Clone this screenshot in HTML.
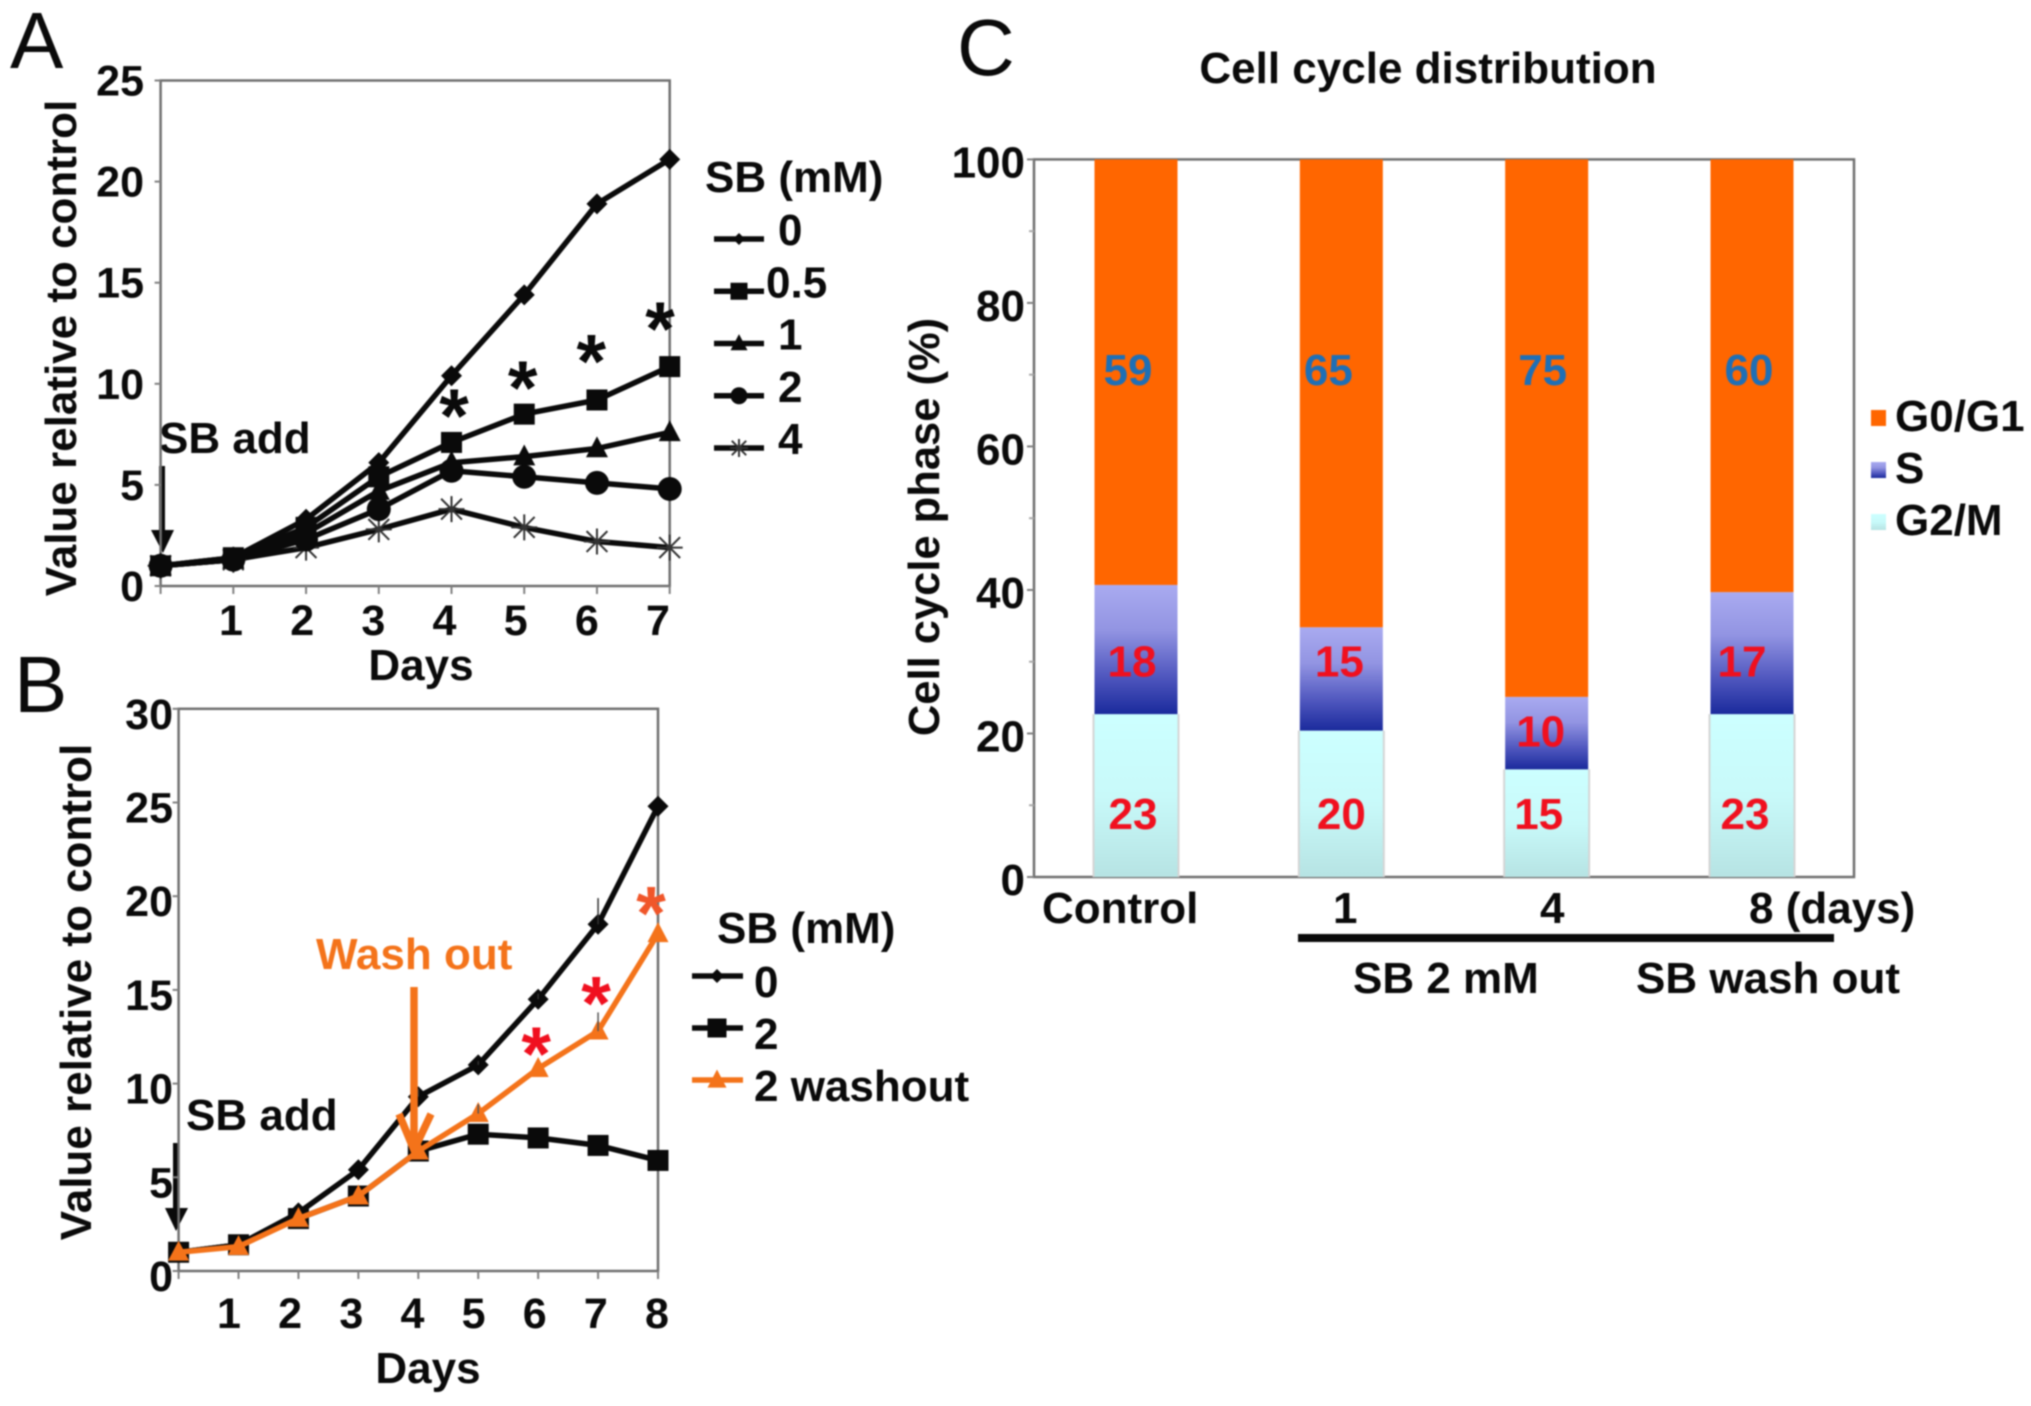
<!DOCTYPE html>
<html lang="en">
<head>
<meta charset="utf-8">
<title>Cell growth and cell cycle distribution</title>
<style>
  html, body { margin: 0; padding: 0; background: #fff; }
  #figure { display: block; width: 2031px; height: 1406px; filter: blur(0.9px); }
  text { font-family: "Liberation Sans", Arial, sans-serif; font-weight: bold; font-size: 44px; fill: #0a0a0a; }
  .panel-letter { font-weight: normal; font-size: 80px; fill: #0a0a0a; }
</style>
</head>
<body>
<svg id="figure" xmlns="http://www.w3.org/2000/svg" width="2031" height="1406" viewBox="0 0 2031 1406">
  <defs>
    <linearGradient id="grad-s" x1="0" y1="0" x2="0" y2="1">
      <stop offset="0" stop-color="#a9aaf0"/>
      <stop offset="0.35" stop-color="#9294e2"/>
      <stop offset="0.7" stop-color="#5158bf"/>
      <stop offset="1" stop-color="#1a2a9c"/>
    </linearGradient>
    <linearGradient id="grad-g2" x1="0" y1="0" x2="0" y2="1">
      <stop offset="0" stop-color="#ccffff"/>
      <stop offset="0.5" stop-color="#c8f9f9"/>
      <stop offset="1" stop-color="#b6e3e3"/>
    </linearGradient>
  </defs>

  <rect x="0" y="0" width="2031" height="1406" fill="#fff"/>

  <text class="panel-letter" x="10" y="68">A</text>
  <text class="panel-letter" x="14" y="712">B</text>
  <text class="panel-letter" x="957" y="75">C</text>

  <g id="panel-a">
    <text transform="translate(76 348) rotate(-90)" text-anchor="middle">Value relative to control</text>
    <text x="421" y="680" text-anchor="middle">Days</text>
    <text x="705" y="192">SB (mM)</text>
    <text x="159" y="453">SB add</text>
    <g>
      <line x1="162" y1="466" x2="162" y2="535" stroke="#0a0a0a" stroke-width="6"/>
      <polygon points="151,530 174,530 163,553" fill="#0a0a0a"/>
    </g>
  </g>

  <g id="panel-b">
    <text transform="translate(91 992) rotate(-90)" text-anchor="middle">Value relative to control</text>
    <text x="428" y="1383" text-anchor="middle">Days</text>
    <text x="717" y="943">SB (mM)</text>
    <text x="186" y="1130">SB add</text>
    <g>
      <line x1="176" y1="1143" x2="176" y2="1212" stroke="#0a0a0a" stroke-width="6"/>
      <polygon points="165,1208 188,1208 176,1231" fill="#0a0a0a"/>
    </g>
    <text x="316" y="969" style="fill:#f4731a">Wash out</text>
  </g>

  <g id="panel-c">
    <text x="1428" y="83" text-anchor="middle">Cell cycle distribution</text>
    <text transform="translate(939 527) rotate(-90)" text-anchor="middle" style="font-size:43.5px">Cell cycle phase (%)</text>
    <rect x="1298" y="934" width="536" height="8" fill="#0a0a0a"/>
    <text x="1353" y="993">SB 2 mM</text>
    <text x="1636" y="993">SB wash out</text>
  </g>
</svg>

<script>
// ---------- Panel A data ----------
const aDays = [0, 1, 2, 3, 4, 5, 6, 7];
const aDayLabels = [1, 2, 3, 4, 5, 6, 7];
const aYTicks = [0, 5, 10, 15, 20, 25];
const aNames = ['0', '0.5', '1', '2', '4'];
const aDose0 = [1, 1.4, 3.3, 6.1, 10.4, 14.4, 18.9, 21.1];
const aDose05 = [1, 1.4, 2.9, 5.4, 7.1, 8.5, 9.2, 10.85];
const aDose1 = [1, 1.3, 2.6, 4.7, 6.1, 6.4, 6.8, 7.6];
const aDose2 = [1, 1.3, 2.3, 3.8, 5.7, 5.4, 5.1, 4.8];
const aDose4 = [1, 1.3, 1.9, 2.8, 3.8, 2.9, 2.2, 1.9];

// ---------- Panel B data ----------
const bDays = [0, 1, 2, 3, 4, 5, 6, 7, 8];
const bDayLabels = [1, 2, 3, 4, 5, 6, 7, 8];
const bYTicks = [0, 5, 10, 15, 20, 25, 30];
const bNames = ['0', '2', '2 washout'];
const bDose0 = [1, 1.4, 3.1, 5.4, 9.3, 11, 14.5, 18.5, 24.8];
const bDose2 = [1, 1.4, 2.8, 4, 6.4, 7.3, 7.1, 6.7, 5.9];
const bWashout = [1, 1.3, 2.8, 4, 6.4, 8.4, 10.8, 12.8, 18];
const bDose0ErrorTop = [1, 1.4, 3.1, 5.4, 9.7, 11.2, 14.8, 19.9, 24.8];
const bWashoutErrorTop = [1, 1.3, 2.8, 4, 6.4, 8.9, 10.8, 13.8, 18];

// ---------- Panel C data ----------
const cCategories = ['Control', '1', '4', '8 (days)'];
const cG2M = [22.7, 20.4, 15, 22.7];
const cS = [18, 14.4, 10.1, 17];
const cG0G1 = [59.3, 65.2, 74.9, 60.3];
const cPrintedG2M = ['23', '20', '15', '23'];
const cPrintedS = ['18', '15', '10', '17'];
const cPrintedG0G1 = ['59', '65', '75', '60'];
const cYTicks = [0, 20, 40, 60, 80, 100];
const cMinorTicks = [10, 30, 50, 70, 90];
const cPhases = ['G0/G1', 'S', 'G2/M'];

// ---------- Helpers ----------
const NS = 'http://www.w3.org/2000/svg';
function linear(d0, d1, r0, r1) {
  return function (v) { return r0 + (v - d0) * (r1 - r0) / (d1 - d0); };
}
function make(parent, tag, attrs, content) {
  const el = document.createElementNS(NS, tag);
  for (const k in attrs) el.setAttribute(k, attrs[k]);
  if (content !== undefined) el.textContent = content;
  parent.appendChild(el);
  return el;
}
function markerShape(parent, kind, x, y, s, color) {
  if (kind === 'diamond') {
    return make(parent, 'polygon', { points: x + ',' + (y - s) + ' ' + (x + s) + ',' + y + ' ' + x + ',' + (y + s) + ' ' + (x - s) + ',' + y, fill: color });
  }
  if (kind === 'square') {
    return make(parent, 'rect', { x: x - s, y: y - s, width: 2 * s, height: 2 * s, fill: color });
  }
  if (kind === 'triangle') {
    return make(parent, 'polygon', { points: (x) + ',' + (y - s * 1.1) + ' ' + (x + s) + ',' + (y + s * 0.8) + ' ' + (x - s) + ',' + (y + s * 0.8), fill: color });
  }
  if (kind === 'circle') {
    return make(parent, 'circle', { cx: x, cy: y, r: s, fill: color });
  }
  const d = s * 0.8;
  return make(parent, 'path', {
    d: 'M' + (x - s) + ' ' + y + 'H' + (x + s) +
       'M' + (x - d) + ' ' + (y - d) + 'L' + (x + d) + ' ' + (y + d) +
       'M' + (x - d) + ' ' + (y + d) + 'L' + (x + d) + ' ' + (y - d) +
       'M' + x + ' ' + (y - s) + 'V' + (y + s),
    stroke: color, 'stroke-width': 2, fill: 'none'
  });
}
function linePath(xs, ys, x, y) {
  return xs.map(function (v, i) { return (i ? 'L' : 'M') + x(v).toFixed(1) + ' ' + y(ys[i]).toFixed(1); }).join('');
}
function drawFrame(parent, prefix, x, y, xs, yTicks, xDom, yDom) {
  const frame = make(parent, 'rect', {
    x: x(xDom[0]), y: y(yDom[1]),
    width: x(xDom[1]) - x(xDom[0]), height: y(yDom[0]) - y(yDom[1]),
    fill: 'none', stroke: '#707070', 'stroke-width': 2.5
  });
  
  
  xs.forEach(function (v) {
    const t = make(parent, 'line', { x1: x(v), x2: x(v), y1: y(yDom[0]), y2: y(yDom[0]) + 8, stroke: '#808080', 'stroke-width': 2 });
    
    
  });
  yTicks.forEach(function (v) {
    const t = make(parent, 'line', { x1: x(xDom[0]) - 6, x2: x(xDom[0]), y1: y(v), y2: y(v), stroke: '#808080', 'stroke-width': 2 });
    
    
  });
}

// ---------- Panel A ----------
const panelA = document.getElementById('panel-a');
const axAx = linear(0, 7, 160.6, 669.7);
const axAy = linear(0, 25, 586, 80.5);
const aLabelX = linear(1, 7, 231, 658);
drawFrame(panelA, 'a', axAx, axAy, aDays, aYTicks, [0, 7], [0, 25]);

aYTicks.forEach(function (v) {
  const el = make(panelA, 'text', { x: 144, y: axAy(v) + 15, 'text-anchor': 'end', style: 'font-size:43px' }, String(v));
  
  
});
aDayLabels.forEach(function (v) {
  const el = make(panelA, 'text', { x: aLabelX(v), y: 635, 'text-anchor': 'middle', style: 'font-size:43px' }, String(v));
  
  
});

const aSeries = [aDose4, aDose2, aDose1, aDose05, aDose0];
const aKinds = ['star', 'circle', 'triangle', 'square', 'diamond'];
const aSizes = [13, 12, 11, 10.5, 10.5];
const aSeriesLabels = ['4', '2', '1', '0.5', '0'];
aSeries.forEach(function (vals, i) {
  const g = make(panelA, 'g', {});
  
  
  const p = make(g, 'path', { d: linePath(aDays, vals, axAx, axAy), fill: 'none', stroke: '#0a0a0a', 'stroke-width': 5.5, 'stroke-linejoin': 'round' });
  
  
  aDays.forEach(function (d, j) {
    const color = aKinds[i] === 'star' ? '#333' : '#0a0a0a';
    const m = markerShape(g, aKinds[i], axAx(d), axAy(vals[j]), aSizes[i], color);
    
    
  });
});

const aLegendKinds = ['diamond', 'square', 'triangle', 'circle', 'star'];
const aLegendSizes = [6, 8.5, 8.5, 8.5, 9];
const aLegendStep = linear(0, 4, 231, 440);
aNames.forEach(function (name, i) {
  const y = aLegendStep(i);
  const g = make(panelA, 'g', {});
  
  
  const l = make(g, 'line', { x1: 714, x2: 764, y1: y + 8, y2: y + 8, stroke: '#0a0a0a', 'stroke-width': 5.5 });
  
  
  const m = markerShape(g, aLegendKinds[i], 739, y + 8, aLegendSizes[i], aLegendKinds[i] === 'star' ? '#333' : '#0a0a0a');
  
  
  const t = make(g, 'text', { x: name === '0.5' ? 766 : 778, y: y + 14 }, name);
  
  
});

const aStarDays = [4, 5, 6, 7];
const aStarHeights = [8.7, 10.1, 11.4, 13.0];
aStarDays.forEach(function (d, i) {
  const el = make(panelA, 'text', { x: linear(4, 7, 454, 660)(d), y: axAy(aStarHeights[i]) + 32, 'text-anchor': 'middle', style: 'font-size:76px' }, '*');
  
  
});

// ---------- Panel B ----------
const panelB = document.getElementById('panel-b');
const axBx = linear(0, 8, 178.6, 658);
const axBy = linear(0, 30, 1271, 708.8);
const bLabelX = linear(1, 8, 229, 657);
drawFrame(panelB, 'b', axBx, axBy, bDays, bYTicks, [0, 8], [0, 30]);

bYTicks.forEach(function (v) {
  const el = make(panelB, 'text', { x: 173, y: axBy(v) + 20, 'text-anchor': 'end', style: 'font-size:43px' }, String(v));
  
  
});
bDayLabels.forEach(function (v) {
  const el = make(panelB, 'text', { x: bLabelX(v), y: 1328, 'text-anchor': 'middle', style: 'font-size:43px' }, String(v));
  
  
});

const bSeries = [bDose0, bDose2, bWashout];
const bKinds = ['diamond', 'square', 'triangle'];
const bColors = ['#0a0a0a', '#0a0a0a', '#f4731a'];
const bSizes = [10.5, 10.5, 10.5];
bSeries.forEach(function (vals, i) {
  const g = make(panelB, 'g', {});
  
  
  const p = make(g, 'path', { d: linePath(bDays, vals, axBx, axBy), fill: 'none', stroke: bColors[i], 'stroke-width': 5.5, 'stroke-linejoin': 'round' });
  
  
  bDays.forEach(function (d, j) {
    const m = markerShape(g, bKinds[i], axBx(d), axBy(vals[j]), bSizes[i], bColors[i]);
    
    
  });
});
bDays.forEach(function (d, j) {
  const e0 = make(panelB, 'line', { x1: axBx(d), x2: axBx(d), y1: axBy(bDose0[j]), y2: axBy(bDose0ErrorTop[j]), stroke: '#333', 'stroke-width': 1.5 });
  
  
  const e1 = make(panelB, 'line', { x1: axBx(d), x2: axBx(d), y1: axBy(bWashout[j]), y2: axBy(bWashoutErrorTop[j]), stroke: '#555', 'stroke-width': 1.5 });
  
  
});

const washArrow = make(panelB, 'path', { d: 'M414 987V1148M399 1114L414 1150L431 1114', fill: 'none', stroke: '#f4731a', 'stroke-width': 7.5 });



const bLegendStep = linear(0, 2, 976, 1080);
const bLegendSizes = [7, 9.5, 9.5];
bNames.forEach(function (name, i) {
  const y = bLegendStep(i);
  const g = make(panelB, 'g', {});
  
  
  const l = make(g, 'line', { x1: 692, x2: 743, y1: y, y2: y, stroke: bColors[i], 'stroke-width': 5.5 });
  
  
  const m = markerShape(g, bKinds[i], 717, y, bLegendSizes[i], bColors[i]);
  
  
  const t = make(g, 'text', { x: 754, y: y + 21 }, name);
  
  
});

const bStarDays = [6, 7, 8];
const bStarHeights = [11.9, 14.6, 19.4];
const bStarColors = ['#f0101f', '#f0101f', '#f0562a'];
bStarDays.forEach(function (d, i) {
  const el = make(panelB, 'text', { x: axBx(d) - 2 - (d === 8 ? 5 : 0), y: axBy(bStarHeights[i]) + 32, 'text-anchor': 'middle', style: 'font-size:76px;fill:' + bStarColors[i] }, '*');
  
  
});

// ---------- Panel C ----------
const panelC = document.getElementById('panel-c');
const axCy = linear(0, 100, 877, 159.4);
const cBarX = linear(0, 3, 1136, 1752);
const cBarW = 83;
const frameC = make(panelC, 'rect', { x: 1034, y: axCy(100), width: 820, height: axCy(0) - axCy(100), fill: 'none', stroke: '#707070', 'stroke-width': 2.5 });



cYTicks.forEach(function (v) {
  const t = make(panelC, 'line', { x1: 1027, x2: 1034, y1: axCy(v), y2: axCy(v), stroke: '#808080', 'stroke-width': 2 });
  
  
  const el = make(panelC, 'text', { x: 1025, y: axCy(v) + 18, 'text-anchor': 'end' }, String(v));
  
  
});
cMinorTicks.forEach(function (v) {
  const t = make(panelC, 'line', { x1: 1029, x2: 1034, y1: axCy(v), y2: axCy(v), stroke: '#aaa', 'stroke-width': 2 });
  
  
});

const cXLabelPos = [1042, 1333, 1540, 1749];
cCategories.forEach(function (name, i) {
  const cx = cBarX(i);
  const g = make(panelC, 'g', {});
  
  

  const shadow = make(g, 'rect', { x: cx - cBarW / 2 - 2, y: axCy(cG2M[i]), width: cBarW + 4, height: axCy(0) - axCy(cG2M[i]), fill: '#d5d5d5' });
  
  

  const g2 = make(g, 'rect', { x: cx - cBarW / 2, y: axCy(cG2M[i]), width: cBarW, height: axCy(0) - axCy(cG2M[i]), fill: 'url(#grad-g2)' });
  
  

  const s = make(g, 'rect', { x: cx - cBarW / 2, y: axCy(cG2M[i] + cS[i]), width: cBarW, height: axCy(cG2M[i]) - axCy(cG2M[i] + cS[i]), fill: 'url(#grad-s)' });
  
  

  const g1 = make(g, 'rect', { x: cx - cBarW / 2, y: axCy(cG2M[i] + cS[i] + cG0G1[i]), width: cBarW, height: axCy(cG2M[i] + cS[i]) - axCy(cG2M[i] + cS[i] + cG0G1[i]), fill: '#ff6600' });
  
  

  const lab = make(panelC, 'text', { x: cXLabelPos[i], y: 923 }, name);
  
  
});

const cTopLabelNudge = [-8, -13, -4, -3];
const cMidLabelNudge = [-4, -2, -6, -10];
const cLowLabelNudge = [-3, 0, -8, -7];
const cMidLabelRaise = [30, 30, 20.3, 30];
cCategories.forEach(function (name, i) {
  const cx = cBarX(i);
  const a = make(panelC, 'text', { x: cx + cTopLabelNudge[i], y: 385, 'text-anchor': 'middle', style: 'fill:#1f6fb5' }, cPrintedG0G1[i]);
  
  
  const b = make(panelC, 'text', { x: cx + cMidLabelNudge[i], y: axCy(cMidLabelRaise[i]) + 15, 'text-anchor': 'middle', style: 'fill:#f0101f' }, cPrintedS[i]);
  
  
  const c = make(panelC, 'text', { x: cx + cLowLabelNudge[i], y: 829, 'text-anchor': 'middle', style: 'fill:#f0101f' }, cPrintedG2M[i]);
  
  
});

const cLegendFill = ['#ff6600', 'url(#grad-s)', 'url(#grad-g2)'];
const cLegendStep = linear(0, 2, 431, 535);
cPhases.forEach(function (name, i) {
  const y = cLegendStep(i);
  const g = make(panelC, 'g', {});
  
  
  const sw = make(g, 'rect', { x: 1871, y: y - 21, width: 15, height: 16, fill: cLegendFill[i] });
  
  
  const t = make(g, 'text', { x: 1895, y: y }, name);
  
  
});
</script>
</body>
</html>
